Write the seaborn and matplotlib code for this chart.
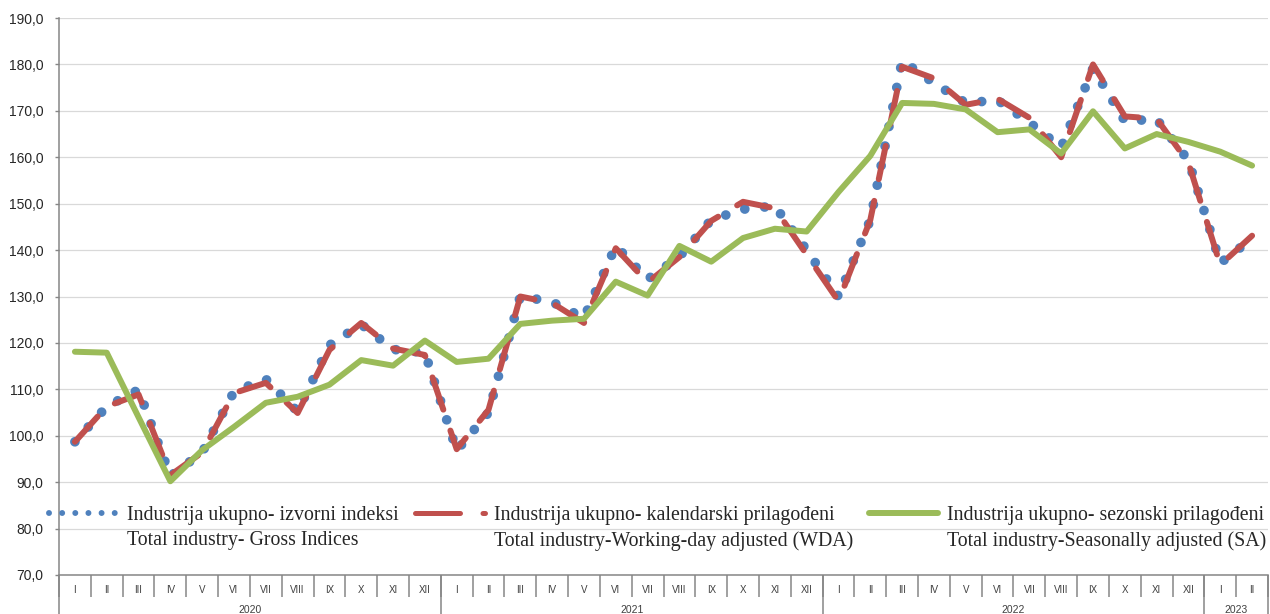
import matplotlib
matplotlib.use("Agg")
import matplotlib.pyplot as plt
from matplotlib.lines import Line2D
from matplotlib.ticker import FuncFormatter
import pandas as pd
import seaborn as sns

# month / year axis
months = ["I", "II", "III", "IV", "V", "VI", "VII", "VIII", "IX", "X", "XI", "XII",
          "I", "II", "III", "IV", "V", "VI", "VII", "VIII", "IX", "X", "XI", "XII",
          "I", "II", "III", "IV", "V", "VI", "VII", "VIII", "IX", "X", "XI", "XII",
          "I", "II"]
years = ["2020", "2021", "2022", "2023"]
year_lengths = [12, 12, 12, 2]

# series values
gross = [98.7, 106.3, 109.9, 91.3, 96.4, 109.5, 112.2, 105.2, 119.5, 124.0, 118.6, 117.9,
         96.8, 105.0, 130.1, 128.8, 125.4, 140.9, 133.7, 138.6, 146.5, 148.8, 149.5, 140.0,
         130.0, 146.5, 180.8, 176.0, 171.7, 172.3, 167.5, 162.1, 179.2, 167.8, 168.2, 159.3,
         137.2, 142.5]
wda = [98.7, 106.3, 108.9, 91.5, 96.4, 109.2, 111.4, 104.9, 118.5, 124.3, 118.8, 117.4,
       97.1, 105.6, 130.0, 128.6, 124.3, 140.4, 133.0, 138.5, 146.3, 150.4, 149.0, 139.0,
       129.0, 146.5, 179.5, 177.0, 171.3, 172.6, 168.5, 160.0, 180.0, 168.8, 168.3, 158.8,
       136.8, 143.1]
sa = [118.1, 117.9, 104.0, 90.2, 96.9, 101.9, 107.1, 108.4, 111.0, 116.3, 115.1, 120.5,
      115.9, 116.6, 124.1, 124.8, 125.2, 133.2, 130.2, 140.9, 137.5, 142.6, 144.6, 144.0,
      152.5, 160.3, 171.7, 171.5, 170.3, 165.4, 166.0, 160.8, 169.9, 161.9, 165.0, 163.3,
      161.2, 158.2]

legend_top = ["Industrija ukupno- izvorni indeksi",
              "Industrija ukupno- kalendarski prilagođeni",
              "Industrija ukupno- sezonski prilagođeni"]
legend_bottom = ["Total industry- Gross Indices",
                 "Total industry-Working-day adjusted (WDA)",
                 "Total industry-Seasonally adjusted (SA)"]

blue = "#4f81bd"
red = "#c0504d"
green = "#9bbb59"
axis_grey = "#868686"

sns.set_style("white")
plt.rcParams["font.family"] = ["Liberation Sans", "DejaVu Sans"]

df = pd.DataFrame({"idx": range(len(months)), "gross": gross, "wda": wda, "sa": sa})

fig = plt.figure(figsize=(12.7, 6.14), dpi=100)
ax = fig.add_axes([59 / 1270, 1 - 575 / 614, (1268 - 59) / 1270, (575 - 18) / 614])

sns.lineplot(data=df, x="idx", y="gross", ax=ax, color=blue, linewidth=7)
sns.lineplot(data=df, x="idx", y="wda", ax=ax, color=red, linewidth=4.3)
sns.lineplot(data=df, x="idx", y="sa", ax=ax, color=green, linewidth=4.3)
l_gross, l_wda, l_sa = ax.lines[:3]
l_gross.set_linestyle((0, (0.001, 2.05)))
l_gross.set_dash_capstyle("round")
l_wda.set_linestyle((0, (5.7, 3.7)))
l_wda.set_dash_capstyle("round")
l_wda.set_dash_joinstyle("round")
l_sa.set_solid_capstyle("round")
l_sa.set_solid_joinstyle("round")

ax.set_xlabel("")
ax.set_ylabel("")
ax.set_ylim(70, 190)
ax.set_yticks(range(70, 191, 10))
ax.yaxis.set_major_formatter(FuncFormatter(lambda v, p: f"{v:.1f}".replace(".", ",")))
ax.yaxis.grid(True, color="#d9d9d9", linewidth=0.9)
ax.set_axisbelow(True)
ax.tick_params(axis="y", left=True, length=3, width=1, color=axis_grey, pad=8,
               labelsize=10, labelcolor="#262626")

# month separators + month labels
ax.set_xlim(-0.5, len(months) - 0.5)
ax.set_xticks([i - 0.5 for i in range(len(months) + 1)])
ax.set_xticklabels([])
ax.set_xticks(range(len(months)), minor=True)
ax.set_xticklabels(months, minor=True)
ax.tick_params(axis="x", which="major", bottom=True, length=16, width=1.1,
               color=axis_grey, direction="out")
ax.tick_params(axis="x", which="minor", bottom=True, length=0, pad=7,
               labelsize=7, labelcolor="#404040")

# year separators + year labels
bounds = [-0.5]
for n in year_lengths:
    bounds.append(bounds[-1] + n)
ax.vlines(bounds, -0.08, 0, transform=ax.get_xaxis_transform(), clip_on=False,
          color=axis_grey, linewidth=1.1)
for y, a, b in zip(years, bounds[:-1], bounds[1:]):
    ax.text((a + b) / 2, -0.062, y, transform=ax.get_xaxis_transform(),
            ha="center", va="center", fontsize=7.5, color="#404040")

for s in ["top", "right"]:
    ax.spines[s].set_visible(False)
for s in ["left", "bottom"]:
    ax.spines[s].set_color(axis_grey)
    ax.spines[s].set_linewidth(1.1)

# legend: two text rows, handle only on the first row
h_gross = Line2D([], [], color=blue, linewidth=4.3, linestyle=(0, (0.001, 2.2)),
                 dash_capstyle="round")
h_wda = Line2D([], [], color=red, linewidth=3.6, linestyle=(0, (9.0, 4.5)),
               dash_capstyle="round")
h_sa = Line2D([], [], color=green, linewidth=4.3, solid_capstyle="round")
blank = Line2D([], [], linestyle="none")
handles = [h_gross, blank, h_wda, blank, h_sa, blank]
labels = [legend_top[0], legend_bottom[0], legend_top[1], legend_bottom[1],
          legend_top[2], legend_bottom[2]]
fig.legend(handles, labels, ncol=3, loc="upper left",
           bbox_to_anchor=(49 / 1270, 1 - 506 / 614), frameon=False,
           prop={"family": "Liberation Serif", "size": 14.3},
           borderpad=0, borderaxespad=0, labelspacing=0.3,
           handlelength=3.5, handletextpad=0.45, columnspacing=0.8)

fig.savefig("out.png", dpi=100)
